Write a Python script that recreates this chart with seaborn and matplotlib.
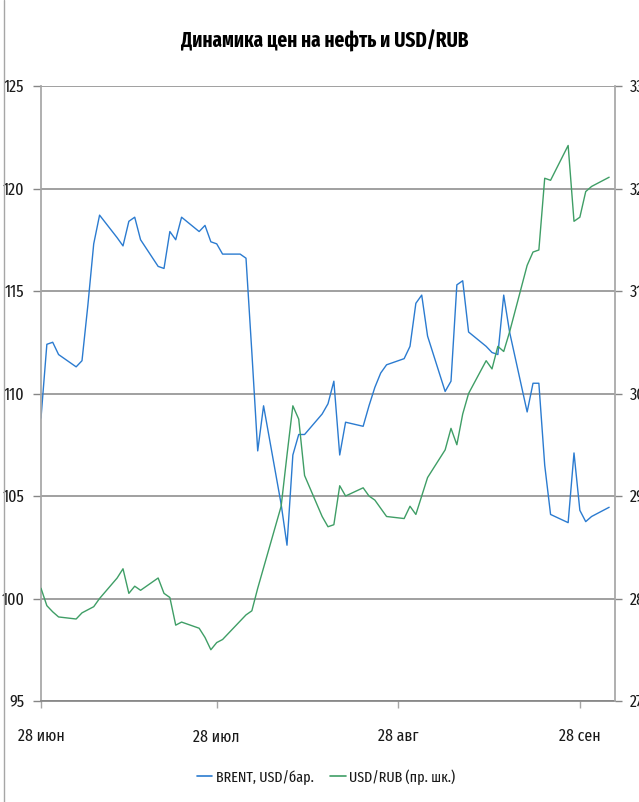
import matplotlib
matplotlib.use("Agg")
import matplotlib.pyplot as plt
import seaborn as sns
import pandas as pd
from matplotlib.lines import Line2D

# ---- data ----
start_date = "2011-06-28"
end_date = "2011-10-03"
brent = [108.8, 112.4, 112.5, 111.9,
         111.3, 111.6, 114.3, 117.3, 118.7,
         117.6, 117.2, 118.4, 118.6, 117.5,
         116.2, 116.1, 117.9, 117.5, 118.6,
         117.9, 118.2, 117.4, 117.3, 116.8,
         116.8, 116.6, 112.0, 107.2, 109.4,
         104.6, 102.6, 107.0, 108.0, 108.0,
         109.0, 109.5, 110.6, 107.0, 108.6,
         108.4, 109.4, 110.3, 111.0, 111.4,
         111.7, 112.3, 114.4, 114.8, 112.8,
         110.1, 110.6, 115.3, 115.5, 113.0,
         112.3, 112.0, 111.9, 114.8, 113.0,
         109.1, 110.5, 110.5, 106.5, 104.1,
         103.7, 107.1, 104.3, 103.75, 104.0,
         104.45]
usdrub = [28.10, 27.93, 27.87, 27.82,
          27.80, 27.86, 27.89, 27.92, 28.00,
          28.20, 28.29, 28.05, 28.12, 28.08,
          28.20, 28.05, 28.01, 27.74, 27.77,
          27.71, 27.62, 27.50, 27.57, 27.60,
          27.78, 27.84, 27.88, 28.10, 28.30,
          28.90, 29.40, 29.88, 29.75, 29.20,
          28.80, 28.70, 28.72, 29.10, 29.00,
          29.08, 29.00, 28.96, 28.88, 28.80,
          28.78, 28.90, 28.82, 29.00, 29.18,
          29.45, 29.66, 29.50, 29.80, 30.00,
          30.32, 30.24, 30.46, 30.41, 30.60,
          31.25, 31.38, 31.40, 32.10, 32.08,
          32.42, 31.68, 31.72, 31.97, 32.02,
          32.11]
tick_dates = ["2011-06-28", "2011-07-28", "2011-08-28", "2011-09-28"]
tick_labels = ["28 июн", "28 июл", "28 авг", "28 сен"]
left_ticks = [95, 100, 105, 110, 115, 120, 125]
right_ticks = [27, 28, 29, 30, 31, 32, 33]
title = "Динамика цен на нефть и USD/RUB"
label_brent = "BRENT, USD/бар."
label_rub = "USD/RUB (пр. шк.)"

dates = pd.bdate_range(start_date, end_date)
df = pd.DataFrame({"date": dates, "brent": brent, "usdrub": usdrub})

# ---- style ----
sns.set_theme(style="white")
plt.rcParams['font.family'] = ['Fira Sans Extra Condensed', 'Fira Sans Condensed',
                               'Carlito', 'DejaVu Sans']
W, H = 639, 802
grid_c = "#868686"
blue = "#2B7BD0"
green = "#3F9E66"
txt_c = "#1a1a1a"

fig = plt.figure(figsize=(W / 100, H / 100), dpi=100)
ax = fig.add_axes([41 / W, 1 - 701 / H, (615 - 41) / W, (701 - 86) / H])
ax2 = ax.twinx()

sns.lineplot(data=df, x="date", y="brent", ax=ax, color=blue, lw=1.0, label=label_brent)
sns.lineplot(data=df, x="date", y="usdrub", ax=ax2, color=green, lw=1.0, label=label_rub)

ax.set_ylim(95, 125)
ax.set_yticks(left_ticks)
ax2.set_ylim(27, 33)
ax2.set_yticks(right_ticks)
ax.set_xlim(pd.Timestamp("2011-06-28"), pd.Timestamp("2011-10-04"))
ax.set_xticks(pd.to_datetime(tick_dates))
ax.set_xticklabels(tick_labels)

for a in (ax, ax2):
    a.set_xlabel("")
    a.set_ylabel("")
    a.grid(False)
    for s in a.spines.values():
        s.set_visible(False)
    lg = a.get_legend()
    if lg is not None:
        lg.remove()

ax.yaxis.grid(True, color=grid_c, lw=1.1)
ax.set_axisbelow(True)
ax.spines["left"].set_visible(True)
ax.spines["bottom"].set_visible(True)
ax.spines["left"].set_color("#a6a6a6")
ax.spines["bottom"].set_color(grid_c)
ax2.spines["right"].set_visible(True)
ax2.spines["right"].set_color("#a6a6a6")

ax.tick_params(axis="y", left=True, length=6, width=1, color=grid_c, pad=6,
               labelsize=12.5, labelcolor=txt_c)
ax.tick_params(axis="x", bottom=True, length=5, width=1, color="#a6a6a6", pad=15,
               labelsize=12.5, labelcolor=txt_c)
ax2.tick_params(axis="y", right=True, length=5, width=1, color=grid_c, pad=6,
                labelsize=12.5, labelcolor=txt_c)

fig.text(325 / W, 1 - 41 / H, title, ha="center", va="center",
         fontsize=15, fontweight="bold", color="#000000")

handles = [Line2D([], [], color=blue, lw=1.2), Line2D([], [], color=green, lw=1.2)]
fig.legend(handles, [label_brent, label_rub], loc="center",
           bbox_to_anchor=(326 / W, 1 - 777 / H), ncol=2, frameon=False,
           handlelength=1.0, handletextpad=0.25, columnspacing=1.1, fontsize=11,
           labelcolor=txt_c)

fig.add_artist(Line2D([4 / W, 4 / W], [0, 1], transform=fig.transFigure,
                      color="#a6a6a6", lw=1))

fig.savefig("out.png", dpi=100)
